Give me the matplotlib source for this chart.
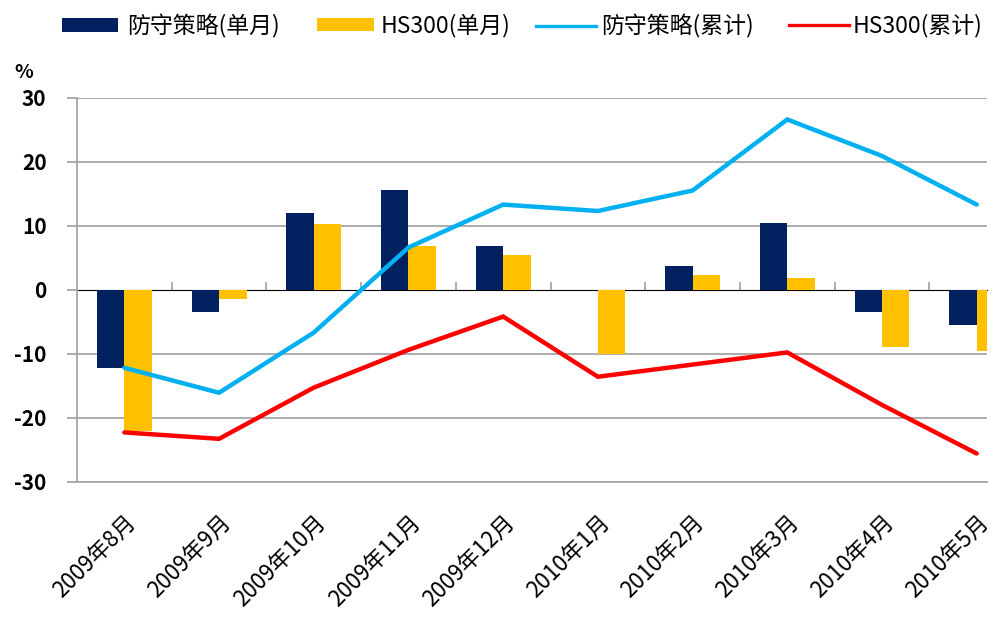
import numpy as np
import matplotlib
matplotlib.use("Agg")
import matplotlib.pyplot as plt
from matplotlib.patches import Patch
from matplotlib.lines import Line2D

plt.rcParams['font.family'] = ['Noto Sans CJK SC', 'DejaVu Sans']

categories = ["2009年8月", "2009年9月", "2009年10月", "2009年11月", "2009年12月",
              "2010年1月", "2010年2月", "2010年3月", "2010年4月", "2010年5月"]
defense_month = [-12.2, -3.5, 12.0, 15.6, 6.9, 0.0, 3.7, 10.5, -3.5, -5.5]
hs300_month = [-22.0, -1.4, 10.3, 6.9, 5.5, -10.0, 2.3, 1.9, -8.9, -9.5]
defense_cum = [-12.2, -16.1, -6.7, 6.6, 13.3, 12.3, 15.5, 26.6, 20.9, 13.3]
hs300_cum = [-22.3, -23.3, -15.3, -9.4, -4.2, -13.6, -11.7, -9.8, -18.0, -25.6]
yticks = [-30, -20, -10, 0, 10, 20, 30]

labels = ["防守策略(单月)", "HS300(单月)", "防守策略(累计)", "HS300(累计)"]
NAVY = "#002060"
ORANGE = "#FFC000"
BLUE = "#00B0F0"
RED = "#FF0000"
GRID = "#A6A6A6"

W, H = 999, 627
fig = plt.figure(figsize=(W / 100, H / 100), dpi=100)
left, right, top, bottom = 77, 987, 97.7, 481.7
ax = fig.add_axes([left / W, 1 - bottom / H, (right - left) / W, (bottom - top) / H])

x = np.arange(len(categories))
bw = 0.29
ax.bar(x - bw / 2, defense_month, width=bw, color=NAVY, zorder=3)
ax.bar(x + bw / 2, hs300_month, width=bw, color=ORANGE, zorder=3)
ax.plot(x, defense_cum, color=BLUE, lw=3.2, zorder=4, solid_capstyle='round', solid_joinstyle='miter')
ax.plot(x, hs300_cum, color=RED, lw=3.2, zorder=4, solid_capstyle='round', solid_joinstyle='miter')

ax.set_ylim(-30, 30)
ax.set_xlim(-0.5, 9.109)
ax.set_yticks(yticks)
ax.set_yticklabels([str(v) for v in yticks], fontsize=15, fontweight='bold')
for v in yticks:
    if v not in (0,):
        ax.axhline(v, color=GRID, lw=1.3, zorder=1)
ax.tick_params(axis='y', direction='out', length=7, width=1.3, color=GRID, pad=15)

ax.set_xticks(x)
ax.set_xticklabels(categories, rotation=45, ha='right', rotation_mode='anchor', fontsize=16)
ax.tick_params(axis='x', length=0, pad=21)

for s in ['top', 'right']:
    ax.spines[s].set_visible(False)
for s in ['left', 'bottom']:
    ax.spines[s].set_color(GRID)
    ax.spines[s].set_linewidth(1.3)

# zero axis with category boundary ticks
sec = ax.secondary_xaxis(0.5)
sec.set_xticks(np.arange(0.5, len(categories) - 1, 1.0))
sec.set_xticklabels([])
sec.tick_params(axis='x', direction='out', length=6, width=1.3, color=GRID)
sec.spines['bottom'].set_color(GRID)
sec.spines['bottom'].set_linewidth(1.3)

fig.text(24 / W, 1 - 72 / H, "%", fontsize=14, fontweight='bold', ha='center', va='center')

# legend entries
fs = 16.5
fpx = fs * 100 / 72
handles = [Patch(facecolor=NAVY, edgecolor='none'), Patch(facecolor=ORANGE, edgecolor='none'),
           Line2D([], [], color=BLUE, lw=2.4), Line2D([], [], color=RED, lw=2.4)]
starts = [62, 317, 536, 789]
hlens = [56, 57, 60, 60]
pads = [9, 7, 5, 4]
ly = 1 - 26 / H
for h, lab, sx, hl, pd in zip(handles, labels, starts, hlens, pads):
    fig.legend([h], [lab], loc='center left', bbox_to_anchor=(sx / W, ly),
               bbox_transform=fig.transFigure, frameon=False, borderpad=0, borderaxespad=0,
               handlelength=hl / fpx, handleheight=12 / fpx, handletextpad=pd / fpx,
               fontsize=fs)

fig.savefig("out.png", dpi=100)
